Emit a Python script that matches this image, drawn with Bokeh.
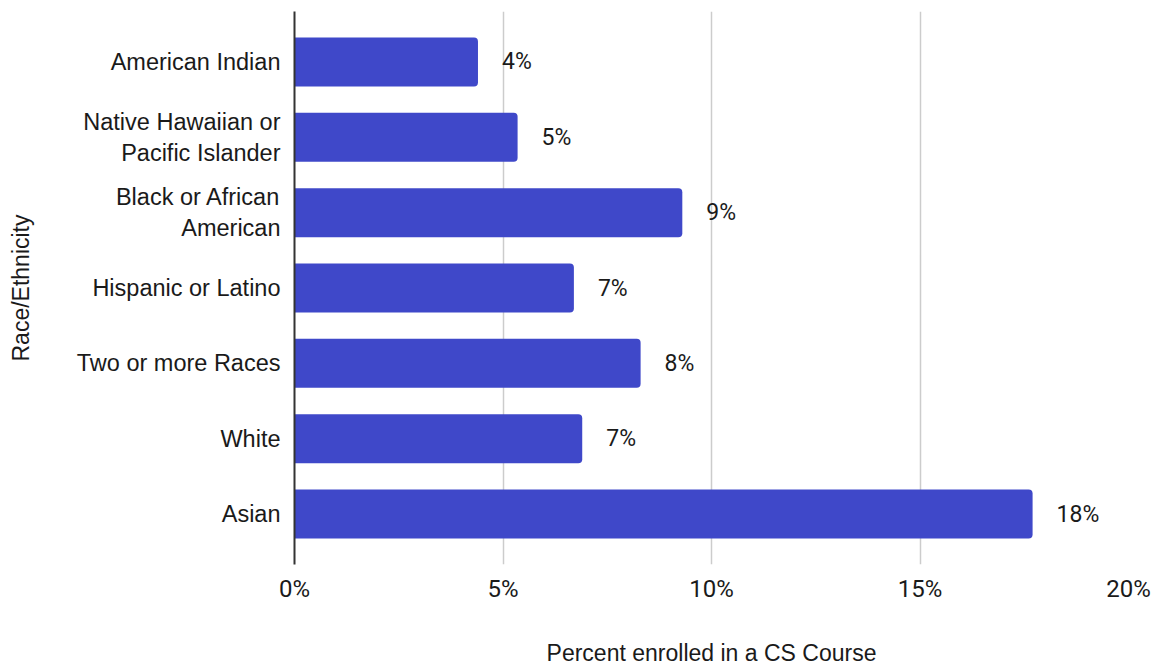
from bokeh.plotting import figure
from bokeh.models import FactorRange, Range1d, ColumnDataSource, LabelSet, FixedTicker
from bokeh.core.properties import value
from bokeh.embed import file_html
from bokeh.resources import INLINE

categories = [
    "American Indian",
    "Native Hawaiian or\nPacific Islander",
    "Black or African\nAmerican",
    "Hispanic or Latino",
    "Two or more Races",
    "White",
    "Asian",
]
percent = [4.4, 5.35, 9.3, 6.7, 8.3, 6.9, 17.7]
value_labels = ["4%", "5%", "9%", "7%", "8%", "7%", "18%"]
x_ticks = [0, 5, 10, 15, 20]
x_tick_labels = ["0%", "5%", "10%", "15%", "20%"]

BAR_COLOR = "#3f48c9"
TEXT = "#1a1a1a"

source = ColumnDataSource(dict(cat=categories, pct=percent, lab=value_labels))

p = figure(
    width=1152, height=668,
    y_range=FactorRange(factors=list(reversed(categories)), range_padding=0.17,
                        range_padding_units="absolute"),
    x_range=Range1d(0, 20),
    output_backend="svg", toolbar_location=None,
    min_border_left=294, min_border_right=24, min_border_top=11, min_border_bottom=103,
)
p.outline_line_color = None
p.background_fill_color = "white"
p.border_fill_color = "white"

p.hbar(y="cat", right="pct", left=0, height=0.65, source=source,
       fill_color=BAR_COLOR, line_color=None, border_radius=(0, 4, 4, 0))

labels = LabelSet(x="pct", y="cat", text="lab", source=source, x_offset=24,
                  text_align="left", text_baseline="middle",
                  text_font=value("Roboto"), text_font_size=value("23px"), text_color=TEXT)
p.add_layout(labels)

# grids
p.ygrid.grid_line_color = None
p.xgrid.grid_line_color = "#cccccc"
p.xgrid.grid_line_width = 1.5
p.xaxis.ticker = FixedTicker(ticks=x_ticks)
p.xaxis.major_label_overrides = {t: s for t, s in zip(x_ticks, x_tick_labels)}

# x axis
p.xaxis.axis_line_color = None
p.xaxis.major_tick_line_color = None
p.xaxis.minor_tick_line_color = None
p.xaxis.major_tick_out = 0
p.xaxis.major_tick_in = 0
p.xaxis.major_label_text_font = "Roboto"
p.xaxis.major_label_text_font_size = "24px"
p.xaxis.major_label_text_color = TEXT
p.xaxis.major_label_standoff = 10
p.xaxis.axis_label = "Percent enrolled in a CS Course"
p.xaxis.axis_label_text_font = "Liberation Sans"
p.xaxis.axis_label_text_font_size = "23px"
p.xaxis.axis_label_text_font_style = "normal"
p.xaxis.axis_label_text_color = TEXT
p.xaxis.axis_label_standoff = 34

# y axis
p.yaxis.axis_line_color = "#333333"
p.yaxis.axis_line_width = 2
p.yaxis.major_tick_line_color = None
p.yaxis.minor_tick_line_color = None
p.yaxis.major_tick_out = 0
p.yaxis.major_tick_in = 0
p.yaxis.major_label_text_font = "Liberation Sans"
p.yaxis.major_label_text_font_size = "23.5px"
p.yaxis.major_label_text_color = TEXT
p.yaxis.major_label_standoff = 14
p.yaxis.axis_label = "Race/Ethnicity"
p.yaxis.axis_label_text_font = "Liberation Sans"
p.yaxis.axis_label_text_font_size = "23px"
p.yaxis.axis_label_text_font_style = "normal"
p.yaxis.axis_label_text_color = TEXT
p.yaxis.axis_label_standoff = 40

open("out.html", "w").write(file_html(p, INLINE))
